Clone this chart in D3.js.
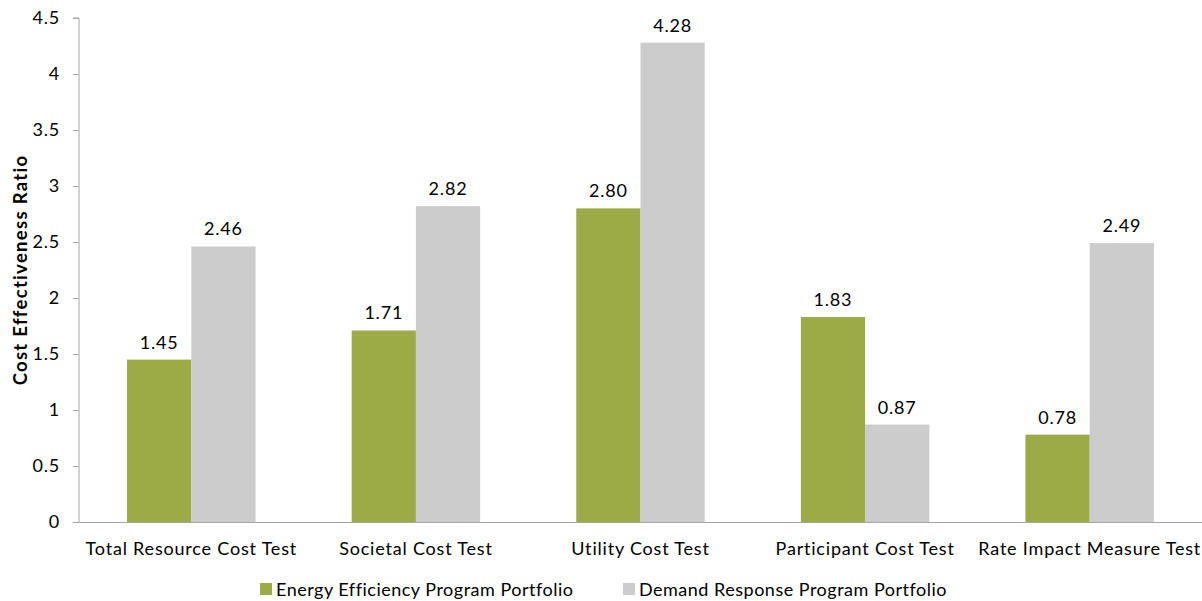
<!DOCTYPE html>
<html><head><meta charset="utf-8">
<script src="https://cdn.jsdelivr.net/npm/d3@7"></script>
<style>
html,body{margin:0;padding:0;background:#fff;}
text{font-family:Lato, "Open Sans", sans-serif;fill:#000;}
</style></head>
<body><svg id="chart" width="1202" height="601"></svg>
<script>
const categories = ["Total Resource Cost Test","Societal Cost Test","Utility Cost Test","Participant Cost Test","Rate Impact Measure Test"];
const seriesNames = ["Energy Efficiency Program Portfolio","Demand Response Program Portfolio"];
const energyEfficiency = [1.45, 1.71, 2.80, 1.83, 0.78];
const demandResponse = [2.46, 2.82, 4.28, 0.87, 2.49];
const yTicks = [0,0.5,1,1.5,2,2.5,3,3.5,4,4.5];
const colors = ["#9DAB46","#CCCCCC"];

const svg = d3.select("#chart");
const margin = {left:79, right:0, top:18, bottom:79};
const W = 1202, H = 601;
const FS = "18px", LS = "0.8px";
const x = d3.scaleBand().domain(categories).range([margin.left, W - margin.right]).paddingInner(0.428).paddingOuter(0.214);
const x1 = d3.scaleBand().domain(seriesNames).range([0, x.bandwidth()]);
const y = d3.scaleLinear().domain([0,4.5]).range([H - margin.bottom, margin.top]);

const data = categories.map((c,i)=>({cat:c, vals:[energyEfficiency[i], demandResponse[i]]}));

const g = svg.append("g");
const groups = g.selectAll("g.cat").data(data).join("g").attr("class","cat")
  .attr("transform", d=>`translate(${x(d.cat)},0)`);
groups.selectAll("rect").data(d=>d.vals.map((v,j)=>({s:seriesNames[j], v, j})))
  .join("rect")
  .attr("x", d=>x1(d.s)).attr("width", x1.bandwidth())
  .attr("y", d=>y(d.v)).attr("height", d=>y(0)-y(d.v))
  .attr("fill", d=>colors[d.j]);
groups.selectAll("text.val").data(d=>d.vals.map((v,j)=>({s:seriesNames[j], v, j})))
  .join("text").attr("class","val")
  .attr("x", d=>x1(d.s)+x1.bandwidth()/2).attr("y", d=>y(d.v)-11)
  .attr("text-anchor","middle").style("font-size",FS).style("letter-spacing",LS)
  .text(d=>d.v.toFixed(2));

// y axis
const yAxis = d3.axisLeft(y).tickValues(yTicks).tickSize(6).tickPadding(13).tickFormat(d=>String(d));
const ya = svg.append("g").attr("transform",`translate(${margin.left},0)`).call(yAxis);
ya.select(".domain").attr("stroke","#a6a6a6").attr("d", `M-6,${y(4.5)}H0V${y(0)}`);
ya.selectAll(".tick line").attr("stroke","#a6a6a6");
ya.selectAll(".tick text").style("font-size",FS).style("letter-spacing",LS).style("font-family","Lato, sans-serif").attr("fill","#000");

// x axis
const xAxis = d3.axisBottom(x).tickSize(0).tickPadding(20);
const xa = svg.append("g").attr("transform",`translate(0,${y(0)})`).call(xAxis);
xa.select(".domain").attr("stroke","#a6a6a6").attr("d",`M${margin.left},0.5H${W}`);
xa.selectAll(".tick text").style("font-size",FS).style("letter-spacing",LS).style("font-family","Lato, sans-serif").attr("fill","#000");

// y title
svg.append("text").attr("transform",`translate(27,${(y(0)+y(4.5))/2}) rotate(-90)`)
  .attr("text-anchor","middle").style("font-size","18.5px").style("letter-spacing","1.3px").style("font-weight","bold")
  .text("Cost Effectiveness Ratio");

// legend
const legendX = [260, 623];
const lg = svg.selectAll("g.leg").data(seriesNames).join("g").attr("class","leg")
  .attr("transform",(d,i)=>`translate(${legendX[i]},583)`);
lg.append("rect").attr("width",12).attr("height",12).attr("fill",(d,i)=>colors[i]);
lg.append("text").attr("x",16).attr("y",13).style("font-size",FS).style("letter-spacing","0.5px").text(d=>d);
</script></body></html>
